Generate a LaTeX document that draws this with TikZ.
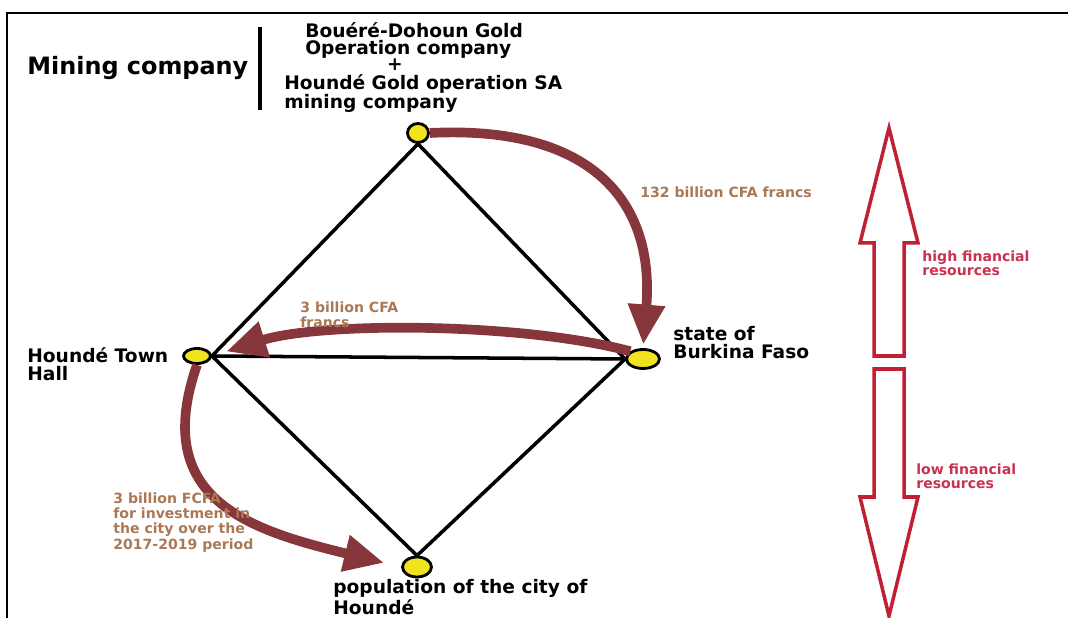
\documentclass[tikz,border=0pt]{standalone}
\usepackage{fontspec}
\setmainfont{DejaVu Sans}
\usepackage{tikz}
\usetikzlibrary{arrows.meta, positioning, shapes.geometric}

\definecolor{flowbrown}{RGB}{135,55,60}
\definecolor{labeltan}{RGB}{170,120,85}
\definecolor{dotyellow}{RGB}{240,228,30}
\definecolor{resred}{RGB}{192,32,52}
\definecolor{reslabel}{RGB}{200,50,80}

\begin{document}
\begin{tikzpicture}[
    dot/.style={draw, ellipse, line width=1.6pt, fill=dotyellow, inner sep=0pt},
    title/.style={font=\bfseries\fontsize{10.6}{10}\selectfont, align=left, inner sep=0pt, anchor=west},
    money/.style={font=\bfseries\fontsize{8}{8.6}\selectfont, text=labeltan, align=left, inner sep=0pt, anchor=west},
    res/.style={font=\bfseries\fontsize{8}{8.2}\selectfont, text=reslabel, align=left, inner sep=0pt, anchor=west},
    flow/.style={line width=5.5pt, draw=flowbrown, -{Triangle[length=0.8cm, width=0.7cm]}},
    resarrow/.style={draw=resred, line width=2pt, line join=miter},
    >=Stealth
  ]
  \useasboundingbox (0,0) rectangle (21.36,12.36);

  % Frame
  \draw[line width=1.2pt] (0.14,0) -- (0.14,12.10) -- (21.36,12.10);

  % Heading
  \node[title, font=\bfseries\fontsize{13.6}{14}\selectfont] (miningtitle) at (0.54,11.0) {Mining company};
  \draw[line width=2.3pt] (5.20,11.82) -- (5.20,10.16);
  \node[title] (boueredohoun) at (6.10,11.55) {Bouéré-Dohoun Gold\\Operation company};
  \node[title, anchor=center] (plus) at (7.90,11.06) {+};
  \node[title] (houndegold) at (5.68,10.49) {Houndé Gold operation SA\\mining company};

  % Nodes
  \node[dot, minimum width=0.42cm, minimum height=0.38cm] (mine) at (8.36,9.70) {};
  \node[dot, minimum width=0.54cm, minimum height=0.30cm] (townhall) at (3.94,5.24) {};
  \node[dot, minimum width=0.66cm, minimum height=0.38cm] (state) at (12.86,5.18) {};
  \node[dot, minimum width=0.58cm, minimum height=0.40cm] (population) at (8.34,1.02) {};

  \node[title] (townlabel) at (0.54,5.08) {Houndé Town\\Hall};
  \node[title] (statelabel) at (13.46,5.51) {state of\\Burkina Faso};
  \node[title, font=\bfseries\fontsize{10.6}{9}\selectfont] (poplabel) at (6.66,0.42) {population of the city of\\Houndé};

  % Diamond
  \draw[line width=2pt] (mine.south) -- (townhall.east);
  \draw[line width=2pt] (mine.south) -- (state.west);
  \draw[line width=2pt] (townhall.east) -- (state.west);
  \draw[line width=2pt] (townhall.east) -- (population.north);
  \draw[line width=2pt] (state.west) -- (population.north);

  % Money flows
  \draw[flow, shorten >=2pt] (mine.east) .. controls (11.80,9.86) and (13.10,8.36) .. (state.north);
  \draw[flow, shorten >=0.3cm] (state.north west) .. controls (10.40,5.92) and (6.40,5.92) .. (townhall.east);
  \draw[flow, shorten >=0.35cm] (townhall.south) .. controls (3.00,2.36) and (5.00,1.76) .. (population.west);

  \node[money] (mineflow) at (12.80,8.52) {132 billion CFA francs};
  \node[money] (stateflow) at (6.00,6.07) {3 billion CFA\\francs};
  \node[money] (townflow) at (2.26,1.91) {3 billion FCFA\\for investment in\\the city over the\\2017-2019 period};

  % Financial resources
  \draw[resarrow] (17.48,5.24) -- (17.48,7.50) -- (17.20,7.50) -- (17.78,9.80)
    -- (18.36,7.50) -- (18.08,7.50) -- (18.08,5.24) -- cycle;
  \draw[resarrow] (17.48,4.98) -- (17.48,2.42) -- (17.20,2.42) -- (17.78,0.04)
    -- (18.36,2.42) -- (18.08,2.42) -- (18.08,4.98) -- cycle;
  \node[res] (highres) at (18.44,7.10) {high financial\\resources};
  \node[res] (lowres) at (18.32,2.83) {low financial\\resources};

\end{tikzpicture}
\end{document}
